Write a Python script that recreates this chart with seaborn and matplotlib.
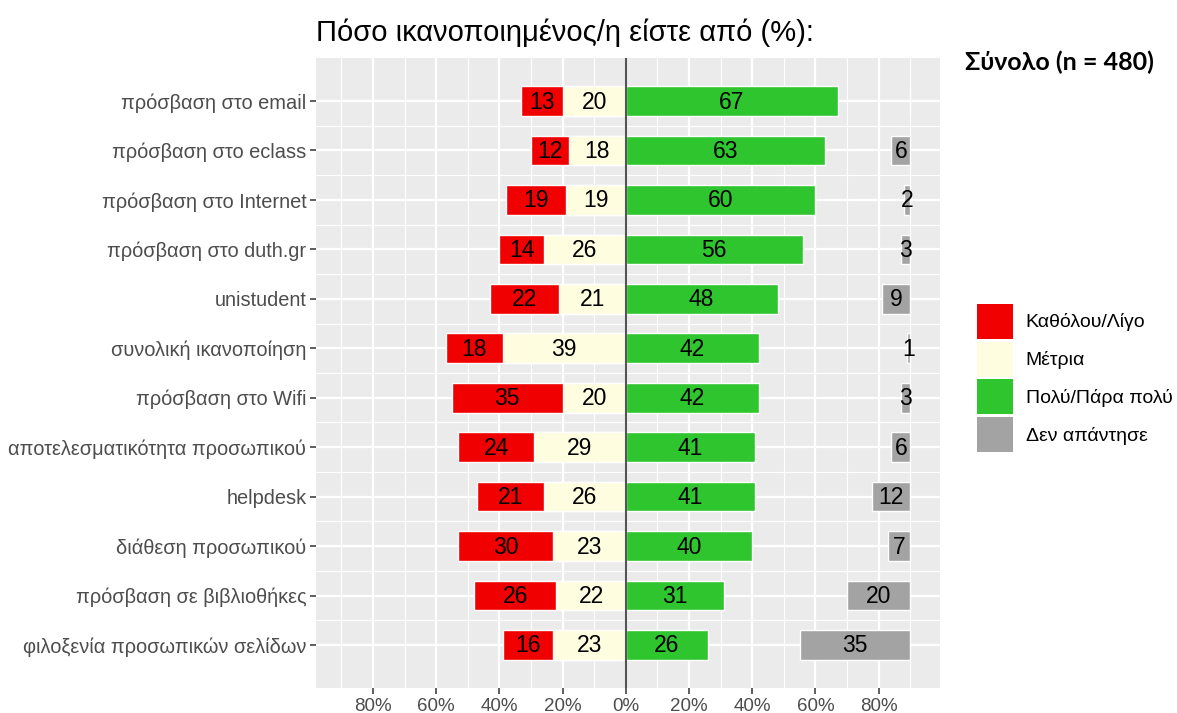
import numpy as np
import pandas as pd
import matplotlib
matplotlib.use("Agg")
import matplotlib.pyplot as plt
import seaborn as sns
from matplotlib.patches import Patch

# DATA
items = [
    "πρόσβαση στο email",
    "πρόσβαση στο eclass",
    "πρόσβαση στο Internet",
    "πρόσβαση στο duth.gr",
    "unistudent",
    "συνολική ικανοποίηση",
    "πρόσβαση στο Wifi",
    "αποτελεσματικότητα προσωπικού",
    "helpdesk",
    "διάθεση προσωπικού",
    "πρόσβαση σε βιβλιοθήκες",
    "φιλοξενία προσωπικών σελίδων",
]
low = [13, 12, 19, 14, 22, 18, 35, 24, 21, 30, 26, 16]
mid = [20, 18, 19, 26, 21, 39, 20, 29, 26, 23, 22, 23]
high = [67, 63, 60, 56, 48, 42, 42, 41, 41, 40, 31, 26]
noans = [0, 6, 2, 3, 9, 1, 3, 6, 12, 7, 20, 35]

levels = ["Καθόλου/Λίγο", "Μέτρια", "Πολύ/Πάρα πολύ", "Δεν απάντησε"]
colors = ["#F00000", "#FFFDE0", "#2EC52E", "#A3A3A3"]
tick_vals = [-80, -60, -40, -20, 0, 20, 40, 60, 80]
tick_labels = ["80%", "60%", "40%", "20%", "0%", "20%", "40%", "60%", "80%"]
noans_end = 90

df = pd.DataFrame({"item": items, "low": low, "mid": mid, "high": high, "noans": noans})
df["left_outer"] = -(df["low"] + df["mid"])
df["left_inner"] = -df["mid"]

# CONFIG
sns.set_theme(style="darkgrid", rc={
    "axes.facecolor": "#EBEBEB",
    "grid.color": "white",
    "axes.edgecolor": "#EBEBEB",
})
plt.rcParams["font.family"] = ["Liberation Sans", "DejaVu Sans"]

fig = plt.figure(figsize=(11.77, 7.13), dpi=100)
ax = fig.add_axes([316 / 1177, 1 - 688 / 713, (940 - 316) / 1177, (688 - 58) / 713])

bw = 0.6
sns.barplot(data=df, y="item", x="left_outer", color=colors[0], width=bw,
            saturation=1, orient="h", ax=ax, zorder=3)
sns.barplot(data=df, y="item", x="left_inner", color=colors[1], width=bw,
            saturation=1, orient="h", ax=ax, zorder=3)
sns.barplot(data=df, y="item", x="high", color=colors[2], width=bw,
            saturation=1, orient="h", ax=ax, zorder=3)
ypos = np.arange(len(items))
ax.barh(ypos, df["noans"], left=noans_end - df["noans"], height=bw,
        color=colors[3], zorder=3)

# LABELS
for i, row in df.iterrows():
    segs = [
        (row["left_outer"] + row["low"] / 2, row["low"]),
        (-row["mid"] / 2, row["mid"]),
        (row["high"] / 2, row["high"]),
        (noans_end - row["noans"] / 2, row["noans"]),
    ]
    for xc, v in segs:
        if v > 0:
            ax.text(xc, i + 0.02, f"{v}", ha="center", va="center", fontsize=16.5,
                    color="black", zorder=5)

ax.axvline(0, color="#555555", lw=1.5, zorder=4)

ax.set_xlim(-98, 99.4)
ax.set_ylim(len(items) - 1 + 0.87, -0.87)
ax.set_xticks(tick_vals)
ax.set_xticklabels(tick_labels)
ax.set_xticks(np.arange(-90, 100, 20), minor=True)
ax.set_yticks(np.arange(len(items) - 1) + 0.5, minor=True)
ax.grid(which="major", color="white", lw=1.6, zorder=0)
ax.grid(which="minor", color="white", lw=0.8, zorder=0)
ax.set_axisbelow(True)
ax.tick_params(axis="both", which="major", length=4, width=1.1, color="#333333",
               labelcolor="#4D4D4D", labelsize=14.4, pad=3, bottom=True, left=True)
ax.tick_params(axis="x", which="major", labelsize=13.5)
ax.tick_params(axis="both", which="minor", length=0)
ax.set_xlabel("")
ax.set_ylabel("")
for s in ax.spines.values():
    s.set_visible(False)

ax.set_title("Πόσο ικανοποιημένος/η είστε από (%):", loc="left", fontsize=21,
             color="black", pad=12)
fig.text(965 / 1177, 1 - 62 / 713, "Σύνολο (n = 480)", fontsize=18, color="black",
         fontweight="bold", family=["Lato", "DejaVu Sans"], va="center")

handles = [Patch(facecolor=c, edgecolor="none") for c in colors]
fig.legend(handles, levels, loc="center left", bbox_to_anchor=(977 / 1177, 1 - 378 / 713),
           frameon=False, fontsize=14, handlelength=1.85, handleheight=2.39,
           labelspacing=0.15, handletextpad=0.65, borderpad=0, borderaxespad=0,
           labelcolor="black")

fig.savefig("out.png", dpi=100)
